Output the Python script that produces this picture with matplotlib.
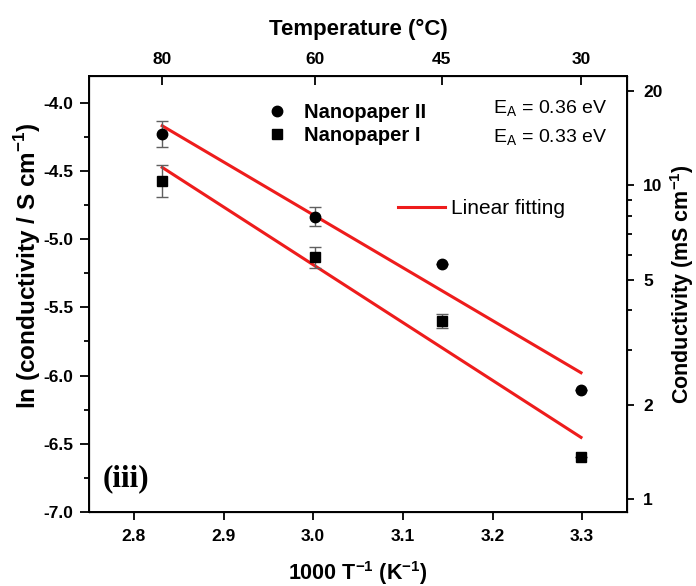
import numpy as np
import matplotlib
matplotlib.use("Agg")
import matplotlib.pyplot as plt
from matplotlib.lines import Line2D
from matplotlib.ticker import FixedLocator, NullFormatter

# ---------------- data ----------------
temps_C = [80, 60, 45, 30]                       # measurement temperatures (°C)
inv_T = [1000.0 / (t + 273.15) for t in temps_C]  # 1000/T (K^-1)

ln_sigma_II = [-4.229, -4.836, -5.183, -6.106]   # Nanopaper II (circles)
err_II = [0.094, 0.070, 0.0, 0.0]
ln_sigma_I = [-4.574, -5.133, -5.600, -6.598]    # Nanopaper I (squares)
err_I = [0.116, 0.079, 0.050, 0.0]

fit_x = [inv_T[0], inv_T[-1]]
fit_II = [-4.169, -5.979]
fit_I = [-4.474, -6.453]

x_ticks = [2.8, 2.9, 3.0, 3.1, 3.2, 3.3]
y_ticks = [-7.0, -6.5, -6.0, -5.5, -5.0, -4.5, -4.0]
right_ticks = [1, 2, 5, 10, 20]
right_minor = [3, 4, 6, 7, 8, 9]
labels_legend = ["Nanopaper II", "Nanopaper I"]
ea_labels = [r"E$_\mathregular{A}$ = 0.36 eV", r"E$_\mathregular{A}$ = 0.33 eV"]

# ---------------- figure ----------------
plt.rcParams['font.family'] = ['Liberation Sans', 'DejaVu Sans']
plt.rcParams['mathtext.fontset'] = 'custom'
plt.rcParams['mathtext.rm'] = 'Liberation Sans'
plt.rcParams['mathtext.bf'] = 'Liberation Sans:bold'

fig = plt.figure(figsize=(6.96, 5.86), dpi=100)
ax = fig.add_axes([89/696, 1-512/586, (627-89)/696, (512-76)/586])

xlim = (2.75, 3.35)
ylim = (-7.0, -3.804)

red = '#ee1c1c'
ax.plot(fit_x, fit_II, color=red, lw=2.2, zorder=2)
ax.plot(fit_x, fit_I, color=red, lw=2.2, zorder=2)

ax.errorbar(inv_T, ln_sigma_II, yerr=err_II, fmt='o', color='black', ms=7.5,
            ecolor='#606060', elinewidth=1.0, capsize=4, capthick=1.0, zorder=3)
ax.errorbar(inv_T, ln_sigma_I, yerr=err_I, fmt='s', color='black', ms=6.5,
            ecolor='#606060', elinewidth=1.0, capsize=4, capthick=1.0, zorder=3)

ax.set_xlim(*xlim)
ax.set_ylim(*ylim)
ax.set_xticks(x_ticks)
ax.set_xticklabels([f"{v:.1f}" for v in x_ticks])
ax.set_yticks(y_ticks)
ax.set_yticklabels([f"{v:.1f}" for v in y_ticks])
ax.yaxis.set_minor_locator(FixedLocator([v + 0.25 for v in y_ticks[:-1]]))

for s in ax.spines.values():
    s.set_linewidth(1.4)

TS = 12.5
ax.tick_params(axis='y', which='major', direction='out', length=6.5, width=1.3, pad=5, labelsize=TS)
ax.tick_params(axis='y', which='minor', direction='out', length=3.5, width=1.3)
ax.tick_params(axis='x', which='major', direction='out', length=6, width=1.3, pad=6, labelsize=TS)
for lab in ax.get_xticklabels() + ax.get_yticklabels():
    lab.set_fontweight('bold')

ax.set_xlabel(r"1000 T$^{\mathbf{-1}}$ (K$^{\mathbf{-1}}$)", fontsize=15.5, fontweight='bold')
ax.xaxis.set_label_coords(0.5, -0.108)
ax.set_ylabel(r"ln (conductivity / S cm$^{\mathbf{-1}}$)", fontsize=17.5, fontweight='bold')
ax.yaxis.set_label_coords(-0.0855, 0.564)

# top axis: temperature
axt = ax.twiny()
axt.set_xlim(*xlim)
axt.set_xticks(inv_T)
axt.set_xticklabels([str(t) for t in temps_C])
axt.tick_params(axis='x', direction='in', length=6.5, width=1.3, pad=6.5, labelsize=TS)
for lab in axt.get_xticklabels():
    lab.set_fontweight('bold')
axt.set_xlabel("Temperature (°C)", fontsize=16, fontweight='bold')
axt.xaxis.set_label_coords(0.5, 1.094)

# right axis: conductivity in mS/cm (log)
axr = ax.twinx()
axr.set_yscale('log')
axr.set_ylim(np.exp(ylim[0]) * 1000, np.exp(ylim[1]) * 1000)
axr.yaxis.set_major_locator(FixedLocator(right_ticks))
axr.set_yticklabels([str(v) for v in right_ticks])
axr.yaxis.set_minor_locator(FixedLocator(right_minor))
axr.yaxis.set_minor_formatter(NullFormatter())
axr.tick_params(axis='y', which='major', direction='out', length=5, width=1.3, pad=6.5, labelsize=TS)
axr.tick_params(axis='y', which='minor', direction='out', length=3.5, width=1.3)
for lab in axr.get_yticklabels():
    lab.set_fontweight('bold')
axr.set_ylabel(r"Conductivity (mS cm$^{\mathbf{-1}}$)", fontsize=15.5, fontweight='bold')
axr.yaxis.set_label_coords(1.077, 0.523)

# legends
h1 = Line2D([], [], marker='o', ls='none', color='black', ms=7.5)
h2 = Line2D([], [], marker='s', ls='none', color='black', ms=6.5)
leg1 = axr.legend([h1, h2], labels_legend, loc='upper left', bbox_to_anchor=(0.330, 0.937),
                  frameon=False, borderpad=0, borderaxespad=0, handlelength=1.0,
                  handletextpad=0.85, labelspacing=0.2,
                  prop={'weight': 'bold', 'size': 14.5})
axr.add_artist(leg1)
h3 = Line2D([], [], color=red, lw=2.2)
axr.legend([h3], ["Linear fitting"], loc='center left', bbox_to_anchor=(0.574, 0.695),
           frameon=False, borderpad=0, borderaxespad=0, handlelength=2.26,
           handletextpad=0.3, prop={'size': 15})

for lab, yb in zip(ea_labels, [0.913, 0.846]):
    ax.text(0.751, yb, lab, transform=ax.transAxes, fontsize=14, va='baseline', ha='left')

ax.text(0.026, 0.0757, "(iii)", transform=ax.transAxes, fontsize=22.5, fontweight='bold',
        family='Liberation Serif', va='center', ha='left')

fig.savefig("out.png", dpi=100)
